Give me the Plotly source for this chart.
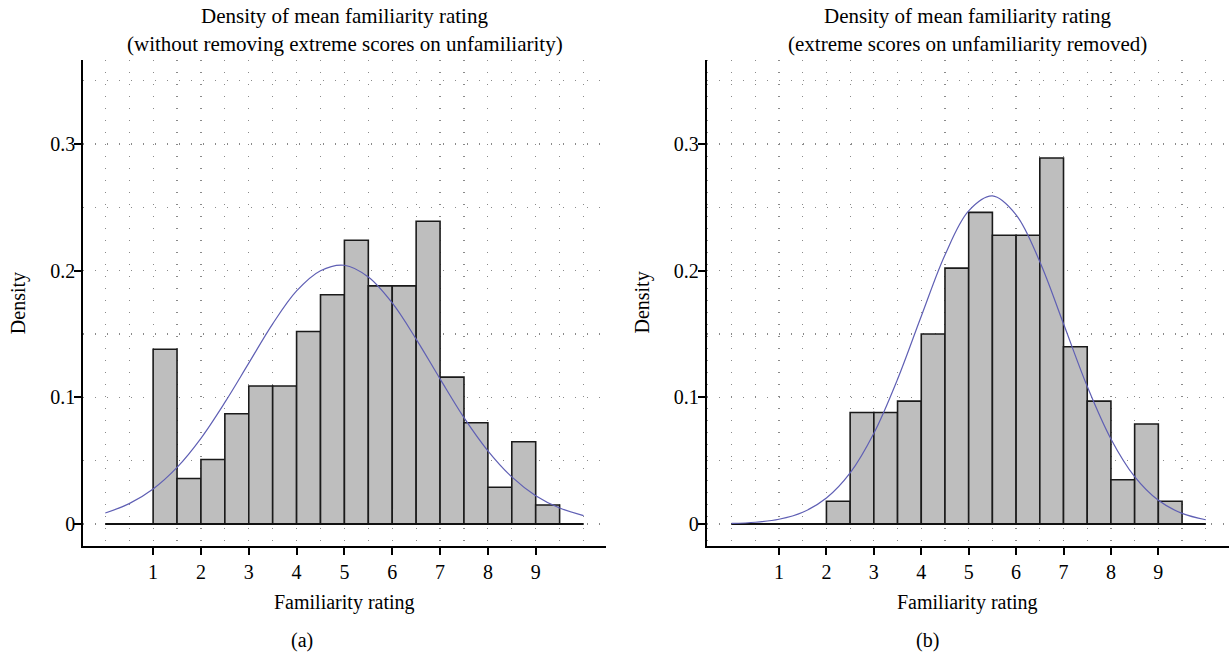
import plotly.graph_objects as go

# ---------------- data ----------------
bin_edges = [0, 0.5, 1, 1.5, 2, 2.5, 3, 3.5, 4, 4.5, 5, 5.5, 6, 6.5, 7, 7.5, 8, 8.5, 9, 9.5, 10]
bin_width = 0.5

density_a = [0, 0, 0.138, 0.036, 0.051, 0.087, 0.109, 0.109, 0.152, 0.181,
             0.224, 0.188, 0.188, 0.239, 0.116, 0.080, 0.029, 0.065, 0.015, 0]
density_b = [0, 0, 0, 0, 0.018, 0.088, 0.088, 0.097, 0.150, 0.202,
             0.246, 0.228, 0.228, 0.289, 0.140, 0.097, 0.035, 0.079, 0.018, 0]

curve_x = [0, 0.5, 1, 1.5, 2, 2.5, 3, 3.5, 4, 4.5, 5, 5.5, 6, 6.5, 7, 7.5, 8, 8.5, 9, 9.5, 10]
curve_a = [0.0087, 0.0161, 0.0277, 0.0447, 0.0677, 0.0960, 0.1270, 0.1580, 0.1840, 0.2000,
           0.2043, 0.1950, 0.1745, 0.1460, 0.1146, 0.0840, 0.0578, 0.0372, 0.0224, 0.0127, 0.0067]
curve_b = [0.0005, 0.0014, 0.0038, 0.0093, 0.0205, 0.0403, 0.0716, 0.1143, 0.1640, 0.2124,
           0.2472, 0.2590, 0.2441, 0.2071, 0.1581, 0.1087, 0.0672, 0.0374, 0.0187, 0.0084, 0.0034]

x_tick_vals = [1, 2, 3, 4, 5, 6, 7, 8, 9]
y_tick_vals = [0, 0.1, 0.2, 0.3]
y_tick_text = ["0", "0.1", "0.2", "0.3"]

titles_line1 = ["Density of mean familiarity rating", "Density of mean familiarity rating"]
titles_line2 = ["(without removing extreme scores on unfamiliarity)",
                "(extreme scores on unfamiliarity removed)"]
x_label = "Familiarity rating"
y_label = "Density"
captions = ["(a)", "(b)"]

# ---------------- layout constants ----------------
W, H = 1229, 655
FONT = "Liberation Serif"
px = lambda v: v / W
py = lambda v: 1 - v / H

panels = [
    dict(dom=(83.3, 606.0), xr=[-0.46, 10.47], dens=density_a, curve=curve_a, cap_x=302),
    dict(dom=(706.7, 1229.0), xr=[-0.525, 10.49], dens=density_b, curve=curve_b, cap_x=927),
]
y_top, y_bot = 60.0, 545.7
y_range = [-0.0171, 0.3663]

fig = go.Figure()
centers = [(bin_edges[i] + bin_edges[i + 1]) / 2 for i in range(len(bin_edges) - 1)]
annotations = []

for i, p in enumerate(panels):
    xa = "x" if i == 0 else "x2"
    ya = "y" if i == 0 else "y2"
    fig.add_trace(go.Bar(
        x=centers, y=p["dens"], width=bin_width, xaxis=xa, yaxis=ya,
        marker=dict(color="#bebebe", line=dict(color="#1a1a1a", width=1.6)),
        showlegend=False, hoverinfo="skip"))
    fig.add_trace(go.Scatter(
        x=[bin_edges[0], bin_edges[-1]], y=[0, 0], mode="lines", xaxis=xa, yaxis=ya,
        line=dict(color="#111111", width=2), showlegend=False, hoverinfo="skip"))
    fig.add_trace(go.Scatter(
        x=curve_x, y=p["curve"], mode="lines", xaxis=xa, yaxis=ya,
        line=dict(color="#5f5fb4", width=1.2, shape="spline", smoothing=1.0),
        showlegend=False, hoverinfo="skip"))

    xkey = "xaxis" if i == 0 else "xaxis2"
    ykey = "yaxis" if i == 0 else "yaxis2"
    fig.update_layout({
        xkey: dict(
            domain=[px(p["dom"][0]), px(p["dom"][1])], range=p["xr"], anchor=ya,
            tickvals=x_tick_vals, ticktext=[str(v) for v in x_tick_vals],
            ticks="outside", ticklen=7, tickwidth=2, tickcolor="black",
            showline=True, linecolor="black", linewidth=2, mirror=False,
            showgrid=True, gridcolor="#8a8a8a", gridwidth=1.2, griddash="1px,11px",
            minor=dict(dtick=0.5, tick0=0, showgrid=True, gridcolor="#8a8a8a",
                       gridwidth=1.2, griddash="1px,11px", ticks=""),
            zeroline=False, tickfont=dict(family=FONT, size=20, color="black"),
            ticklabelstandoff=0, fixedrange=True),
        ykey: dict(
            domain=[py(y_bot), py(y_top)], range=y_range, anchor=xa,
            tickvals=y_tick_vals, ticktext=y_tick_text,
            ticks="outside", ticklen=7, tickwidth=2, tickcolor="black",
            showline=True, linecolor="black", linewidth=2, mirror=False,
            showgrid=True, gridcolor="#8a8a8a", gridwidth=1.2, griddash="1px,11px",
            minor=dict(dtick=0.05, tick0=0, showgrid=True, gridcolor="#8a8a8a",
                       gridwidth=1.2, griddash="1px,11px", ticks=""),
            zeroline=False, tickfont=dict(family=FONT, size=20, color="black"),
            ticklabelstandoff=0, fixedrange=True),
    })
    # bring y tick labels a little closer to the ticks, like the reference
    try:
        fig.update_layout({ykey: dict(ticklabelstandoff=-5)})
    except Exception:
        pass

    cx = (p["dom"][0] + p["dom"][1]) / 2
    annotations += [
        dict(text=titles_line1[i], x=px(cx), y=py(16), xref="paper", yref="paper",
             showarrow=False, xanchor="center", yanchor="middle",
             font=dict(family=FONT, size=21, color="black")),
        dict(text=titles_line2[i], x=px(cx), y=py(44), xref="paper", yref="paper",
             showarrow=False, xanchor="center", yanchor="middle",
             font=dict(family=FONT, size=21, color="black")),
        dict(text=x_label, x=px(cx), y=py(602), xref="paper", yref="paper",
             showarrow=False, xanchor="center", yanchor="middle",
             font=dict(family=FONT, size=20, color="black")),
        dict(text=captions[i], x=px(p["cap_x"]), y=py(640), xref="paper", yref="paper",
             showarrow=False, xanchor="center", yanchor="middle",
             font=dict(family=FONT, size=20, color="black")),
        dict(text=y_label, x=px(p["dom"][0] - 64), y=py((y_top + y_bot) / 2),
             xref="paper", yref="paper", showarrow=False, textangle=-90,
             xanchor="center", yanchor="middle",
             font=dict(family=FONT, size=20, color="black")),
    ]

fig.update_layout(
    width=W, height=H, margin=dict(l=0, r=0, t=0, b=0),
    paper_bgcolor="white", plot_bgcolor="white",
    bargap=0, annotations=annotations, showlegend=False,
)

fig.write_html("out.html",
               config={"displayModeBar": False, "staticPlot": True},
               post_script="document.body.style.margin='0px';"
                           "document.body.style.overflow='hidden';")
